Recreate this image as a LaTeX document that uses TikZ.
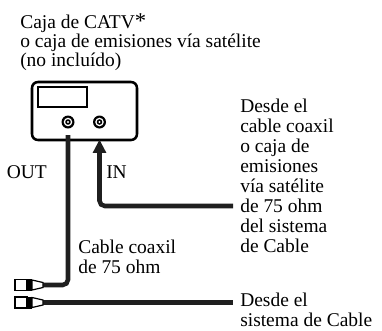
\documentclass[tikz,border=0pt]{standalone}
\usepackage{fontspec}
\setmainfont{Liberation Serif}
\usetikzlibrary{arrows.meta}
\begin{document}
\begin{tikzpicture}[x=0.75pt,y=-0.75pt,
  lbl/.style={inner sep=0pt, anchor=north west, align=left, font=\fontsize{14.6pt}{15pt}\selectfont},
  cable/.style={line width=3.4pt, draw=black!88, rounded corners=4pt},
  jack/.style={circle, fill=black, minimum size=9.75pt, inner sep=0pt},
  plug/.style={draw=black, line width=0.9pt, fill=white},
]
\useasboundingbox (0,0) rectangle (382,330);
% texts
\node (title) [lbl, font=\fontsize{14.6pt}{13.1pt}\selectfont] at (20,13) {Caja de CATV{\fontsize{17pt}{17pt}\selectfont*}\\o caja de emisiones vía satélite\\(no incluído)};
\node (src1) [lbl] at (240,99) {Desde el\\cable coaxil\\o caja de\\emisiones\\vía satélite\\de 75 ohm\\del sistema\\de Cable};
\node (src2) [lbl] at (240,293) {Desde el\\sistema de Cable};
\node (coax) [lbl] at (78,240) {Cable coaxil\\de 75 ohm};
\node (outlbl) [lbl] at (6.5,165) {OUT};
\node (inlbl) [lbl] at (106,165) {IN};
% box
\node (box) [draw, line width=1.9pt, rounded corners=4.5pt, minimum width=78.75pt, minimum height=43.5pt, inner sep=0pt] at (84.5,111) {};
\node (screen) [draw, line width=1.1pt, minimum width=36.75pt, minimum height=15pt, inner sep=0pt] at (62.5,97) {};
\node (outjack) [jack] at (68,122) {};
\node (injack) [jack] at (99.5,122) {};
\foreach \j in {outjack,injack}{
  \fill[white] (\j) circle (3.2pt);
  \fill (\j) circle (2.1pt);
  \fill[white] (\j) circle (0.8pt);
}
% coordinates
\coordinate (outTop) at (68,135);
\coordinate (plugA) at (43,285);
\coordinate (plugB) at (43,302.5);
\coordinate (botEnd) at (233,302.5);
\coordinate (inStart) at (233,206);
\coordinate (inTip) at (99.5,139.5);
% cables
\draw[cable] (outTop) |- (plugA);
\draw[cable] (plugB) -- (botEnd);
\draw[cable, -{Triangle[width=9.5pt,length=10pt]}] (inStart) -| (inTip);
% plugs
\foreach \y in {285,302.5}{
  \filldraw[plug] (15,\y-5.5) rectangle (27,\y+5.5);
  \fill (27,\y-6) rectangle (32,\y+6);
  \filldraw[plug] (32,\y-5) -- (43,\y-2.5) -- (43,\y+2.5) -- (32,\y+5) -- cycle;
}
\end{tikzpicture}
\end{document}
